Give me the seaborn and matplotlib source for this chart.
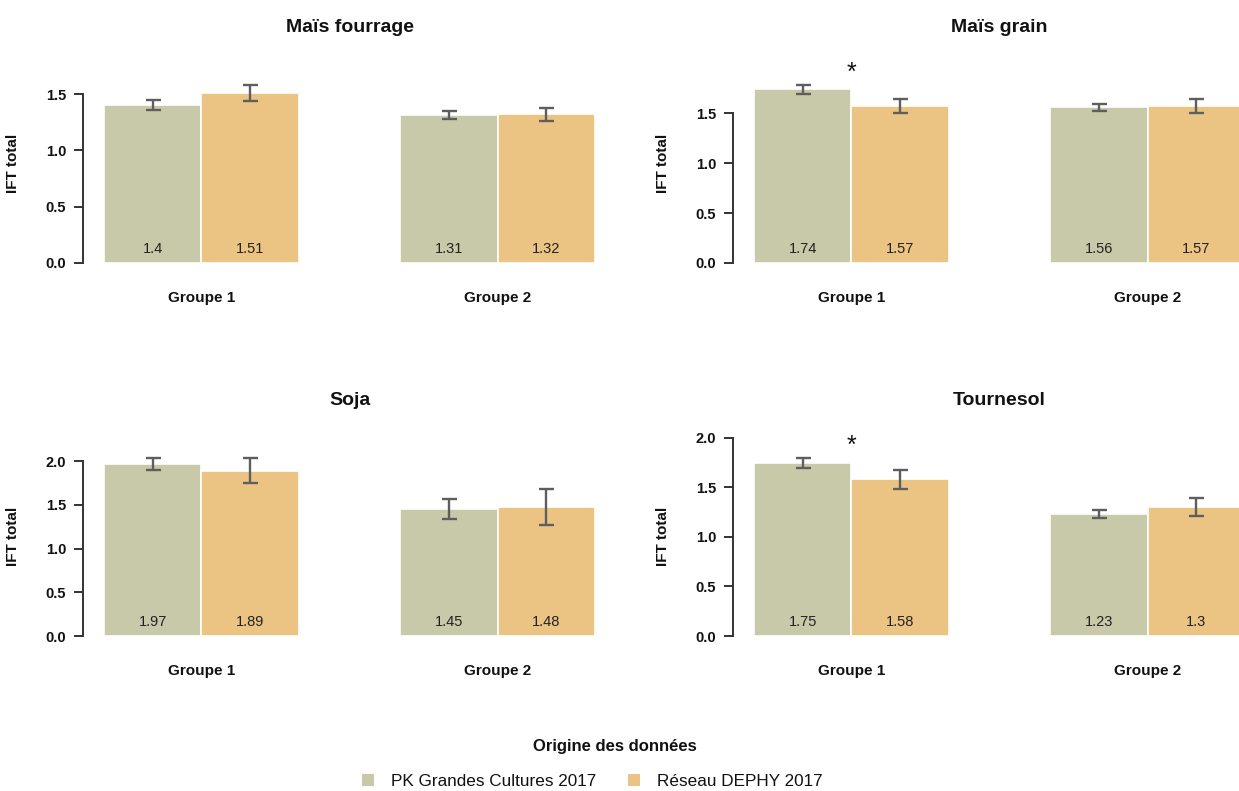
import numpy as np
import pandas as pd
import seaborn as sns
import matplotlib.pyplot as plt
from matplotlib.lines import Line2D
from matplotlib.ticker import FormatStrFormatter

cultures = ["Maïs fourrage", "Maïs grain", "Soja", "Tournesol"]
groupes = ["Groupe 1", "Groupe 2"]
origines = ["PK Grandes Cultures 2017", "Réseau DEPHY 2017"]
couleurs = ["#C8C9A9", "#EBC484"]

# IFT moyen par culture (lignes) et par groupe (colonnes)
ift_pk = [[1.40, 1.31], [1.74, 1.56], [1.97, 1.45], [1.75, 1.23]]
ift_dephy = [[1.51, 1.32], [1.57, 1.57], [1.89, 1.48], [1.58, 1.30]]
# erreur standard
se_pk = [[0.046, 0.035], [0.045, 0.035], [0.070, 0.114], [0.050, 0.042]]
se_dephy = [[0.073, 0.058], [0.067, 0.070], [0.143, 0.205], [0.100, 0.088]]
# difference significative entre origines
signif = [[False, False], [True, False], [False, False], [True, False]]
# dernier tick de l'axe y
y_axis_max = [1.5, 1.5, 2.0, 2.0]

rows = []
for i, culture in enumerate(cultures):
    for j, groupe in enumerate(groupes):
        rows.append({"culture": culture, "groupe": groupe, "origine": origines[0],
                     "ift": ift_pk[i][j], "se": se_pk[i][j]})
        rows.append({"culture": culture, "groupe": groupe, "origine": origines[1],
                     "ift": ift_dephy[i][j], "se": se_dephy[i][j]})
df = pd.DataFrame(rows)

sns.set_theme(style="white")
plt.rcParams['font.family'] = ['Liberation Sans', 'DejaVu Sans']
plt.rcParams['text.color'] = "#111111"

W, H = 1239, 791
fig = plt.figure(figsize=(W / 100, H / 100), dpi=100)

# position des panneaux en pixels : x de l'axe y, y de la ligne de base
panels = [(83, 263), (733, 263), (83, 636), (733, 636)]
ax_w, ax_h = 533, 214

for i, culture in enumerate(cultures):
    x0, yb = panels[i]
    ax = fig.add_axes([x0 / W, (H - yb) / H, ax_w / W, ax_h / H])
    sub = df[df.culture == culture]
    sns.barplot(data=sub, x="groupe", y="ift", hue="origine", order=groupes,
                hue_order=origines, palette=couleurs, width=0.66,
                edgecolor="white", linewidth=1.2, errorbar=None, legend=False,
                saturation=1, ax=ax)

    top = 0
    tops = {}
    for container, origine in zip(ax.containers, origines):
        for bar, groupe in zip(container, groupes):
            row = sub[(sub.groupe == groupe) & (sub.origine == origine)].iloc[0]
            xc = bar.get_x() + bar.get_width() / 2
            ax.errorbar(xc, row.ift, yerr=row.se, fmt="none", ecolor="#5e5e5e",
                        elinewidth=1.7, capsize=5.4, capthick=1.7)
            ax.annotate(f"{row.ift:g}", (xc, 0), xytext=(0, 7.5),
                        textcoords="offset points", ha="center", va="baseline",
                        fontsize=10.5, color="#222222")
            top = max(top, row.ift + row.se)
            tops[groupe] = max(tops.get(groupe, 0), row.ift + row.se)

    for j, groupe in enumerate(groupes):
        if signif[i][j]:
            b = ax.containers[0][j]
            ax.annotate("*", (b.get_x() + b.get_width(), tops[groupe]),
                        xytext=(0, 3.8), textcoords="offset points",
                        ha="center", va="baseline", fontsize=18,
                        color="#111111", annotation_clip=False)

    ax.set_xlim(-0.40, 1.40)
    ax.set_ylim(0, 1.2 * top)
    ax.set_yticks(np.arange(0, y_axis_max[i] + 0.01, 0.5))
    ax.yaxis.set_major_formatter(FormatStrFormatter("%.1f"))
    sns.despine(ax=ax, bottom=True)
    ax.spines["left"].set_bounds(0, y_axis_max[i])
    ax.spines["left"].set_color("#333333")
    ax.spines["left"].set_linewidth(1.4)
    ax.tick_params(axis="y", left=True, direction="out", length=6.5, width=1.4,
                   color="#333333", pad=5.5, labelsize=10.5)
    ax.tick_params(axis="x", bottom=False, length=0, pad=20, labelsize=11)
    for lab in ax.get_yticklabels() + ax.get_xticklabels():
        lab.set_fontweight("bold")
        lab.set_color("#111111")
    ax.set_xlabel("")
    ax.set_ylabel("IFT total", fontsize=11, fontweight="bold", color="#111111")
    ax.yaxis.set_label_coords(-0.118, 0.467)
    ax.set_title(culture, fontsize=14, fontweight="bold", pad=12.2, color="#111111")

fig.text(615 / W, 1 - 746 / H, "Origine des données", ha="center", va="center",
         fontsize=12, fontweight="bold")
handles = [Line2D([], [], marker="s", linestyle="", markersize=8.6,
                  markerfacecolor=c, markeredgewidth=0) for c in couleurs]
fig.legend(handles, origines, loc="center", bbox_to_anchor=(591 / W, 1 - 781 / H),
           ncol=2, frameon=False, fontsize=12.3, handlelength=1,
           handletextpad=0.85, columnspacing=1.68)

fig.savefig("out.png", dpi=100)
